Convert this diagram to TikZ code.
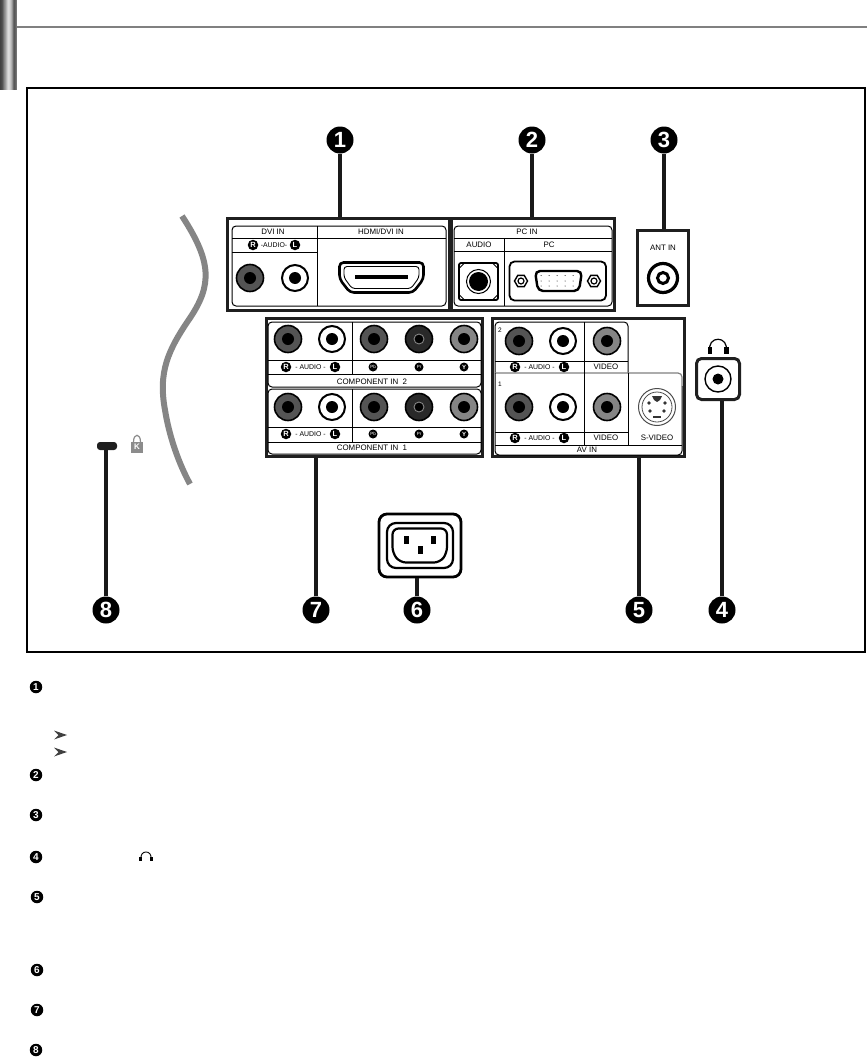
\documentclass[tikz,border=0pt]{standalone}
\usepackage{fontspec}
\setmainfont{Liberation Sans}
\definecolor{jkdark}{gray}{0.33}
\definecolor{jkdeep}{gray}{0.16}
\definecolor{jkmid}{gray}{0.52}
\definecolor{curvegray}{gray}{0.52}
\usetikzlibrary{arrows.meta,positioning,shapes.geometric,calc}

\begin{document}
\begin{tikzpicture}[x=1pt,y=-1pt,
    numbadge/.style={circle, fill=black, text=white, inner sep=0pt, minimum size=27pt,
      font=\fontsize{22}{22}\selectfont\bfseries},
    txtbadge/.style={circle, fill=black, text=white, inner sep=0pt, minimum size=12.5pt,
      font=\fontsize{10}{10}\selectfont\bfseries},
    tinybadge/.style={circle, fill=black, text=white, inner sep=0pt, minimum size=9pt,
      font=\fontsize{6}{6}\selectfont\bfseries},
    chanbadge/.style={tinybadge, minimum size=10.5pt, font=\fontsize{7.5}{8}\selectfont\bfseries},
    panel/.style={rectangle, draw=black!88, line width=3pt, inner sep=0pt},
    lbl/.style={inner sep=0pt, font=\fontsize{7.9}{8}\selectfont},
    audiolbl/.style={inner sep=0pt, font=\fontsize{6.9}{8}\selectfont},
    link/.style={line width=3.2pt, black!90},
    rule/.style={line width=1pt},
    jack/.style={circle, draw=black, line width=1.6pt, inner sep=0pt, minimum size=27pt},
    whitejack/.style={jack, fill=white, line width=2pt, minimum size=26pt},
    hole/.style={circle, fill=black, inner sep=0pt, minimum size=12pt},
    pin/.style={rectangle, fill=black, inner sep=0pt, minimum width=5pt, minimum height=8pt},
    phones/.pic={
      \draw[line width=1.2pt] (-8,6) .. controls (-12,-11) and (12,-11) .. (8,6);
      \fill (-10.5,1) rectangle (-6,8);
      \fill (6,1) rectangle (10.5,8);
    }
  ]
    \useasboundingbox (0,0) rectangle (867,1057);

    \foreach \sx/\sg in {0/75,1/72,2/68,3/58,4/48,5/40,6/30,7/20,8/14,9/16,10/22,11/30,12/42,13/58,14/66,15/62,16/55}{
      \fill[black!\sg!white] (\sx,0) rectangle (\sx+1.2,90);
    }
    \draw[line width=2pt, black!50] (17,27) -- (867,27);
    \draw[line width=2pt] (27,88) rectangle (865,652);

    \draw[line width=6pt, curvegray] (182,216) .. controls (212,262) and (212,285) .. (190,318)
      .. controls (168,350) and (158,372) .. (165,410) .. controls (169,435) and (178,462) .. (190,484);

    \node[panel, minimum width=222pt, minimum height=91.5pt] (dvi) at (338.5,264.25) {};
    \node[panel, minimum width=162.5pt, minimum height=91.5pt] (pcin) at (532.75,264.25) {};
    \node[panel, minimum width=51pt, minimum height=75pt] (ant) at (663,268) {};
    \node[panel, rounded corners=5pt, minimum width=43pt, minimum height=41pt] (phone) at (718,379) {};
    \node[panel, minimum width=192pt, minimum height=138pt] (av) at (588.5,387.5) {};
    \node[panel, minimum width=216pt, minimum height=138pt] (comp) at (374.5,387.5) {};
    \node[panel, draw=black, line width=2.8pt, rounded corners=8pt, minimum width=82pt, minimum height=63pt] (power) at (420,545.5) {};
    \node[rectangle, fill=black!88, rounded corners=3pt, minimum width=20pt, minimum height=8pt, inner sep=0pt] (slot) at (107,446) {};

    \node[numbadge] (b1) at (340,140) {1};
    \node[numbadge] (b2) at (532,140) {2};
    \node[numbadge] (b3) at (664,140) {3};
    \node[numbadge] (b4) at (722,610) {4};
    \node[numbadge] (b5) at (639,610) {5};
    \node[numbadge] (b6) at (417,610) {6};
    \node[numbadge] (b7) at (316,610) {7};
    \node[numbadge] (b8) at (106,610) {8};

    \draw[link] (b1) -- (b1 |- dvi.north);
    \draw[link] (b2) -- (b2 |- pcin.north);
    \draw[link] (b3) -- (b3 |- ant.north);
    \draw[link] (b4) -- (b4 |- phone.south);
    \draw[link] (b5) -- (b5 |- av.south);
    \draw[link] (b6) -- (b6 |- power.south);
    \draw[link] (b7) -- (b7 |- comp.south);
    \draw[link] (b8) -- (b8 |- slot.south);

    % dvi and hdmi
    \draw[rule, rounded corners=4pt] (232,226) rectangle (446,306);
    \draw[rule] (232,238) -- (446,238) (232,252) -- (317,252) (317,226) -- (317,306);
    \node[lbl] (dvit) at (273,232) {DVI IN};
    \node[lbl] (hdmit) at (381,231.5) {HDMI/DVI IN};
    \node[chanbadge] (dvir) at (253,245) {R};
    \node[audiolbl] (dvia) at (274,245) {-AUDIO-};
    \node[chanbadge] (dvil) at (295,245) {L};
    \node[jack, fill=jkdark, minimum size=27pt] (dvij1) at (250,278) {};
    \node[hole] (dvih1) at (dvij1) {};
    \node[whitejack] (dvij2) at (295,278) {};
    \node[hole] (dvih2) at (dvij2) {};
    \draw[line width=2.6pt, rounded corners=4pt] (339.5,262.5) -- (423.5,262.5) -- (423.5,279) -- (413,292.5) -- (350,292.5) -- (339.5,279) -- cycle;
    \draw[line width=0.9pt, rounded corners=3pt] (344,266.5) -- (419,266.5) -- (419,277.5) -- (411,288.5) -- (352,288.5) -- (344,277.5) -- cycle;
    \fill (355,275) rectangle (408,279);

    % pc
    \draw[rule, rounded corners=4pt] (454,226) rectangle (612,306);
    \draw[rule] (454,238) -- (612,238) (454,251) -- (612,251) (504,238) -- (504,306);
    \node[lbl] (pct) at (527,232) {PC IN};
    \node[lbl] (pca) at (479,244.5) {AUDIO};
    \node[lbl] (pcp) at (549,244.5) {PC};
    \draw[line width=1.8pt, rounded corners=2pt] (459,263) rectangle (498,300);
    \draw[line width=1pt] (459.5,268) -- (464,263.5) (493,263.5) -- (497.5,268) (459.5,295) -- (464,299.5) (493,299.5) -- (497.5,295);
    \node[jack, fill=white, line width=1pt, minimum size=24pt] (pcj) at (478.5,281.5) {};
    \node[hole, minimum size=19pt] (pch) at (pcj) {};
    \draw[line width=1.8pt, rounded corners=5pt] (509.5,261.5) rectangle (606,300.5);
    \foreach \sx in {521,594}{
      \node[regular polygon, regular polygon sides=6, draw=black, line width=1.4pt, inner sep=0pt, minimum size=13pt] (scr\sx) at (\sx,281) {};
      \node[circle, draw=black, line width=1.2pt, inner sep=0pt, minimum size=6pt] (sci\sx) at (\sx,281) {};
    }
    \draw[line width=2.4pt, rounded corners=5pt] (535,271) -- (582,271) -- (579,291) -- (538,291) -- cycle;
    \foreach \dx in {541,549,557,565,573}{
      \fill (\dx,275.5) circle (0.5);
      \fill (\dx,281) circle (0.5);
      \fill (\dx,286) circle (0.5);
    }

    % antenna
    \node[lbl] (antt) at (663,248) {ANT IN};
    \node[jack, fill=white, line width=3.2pt, minimum size=29pt] (antj) at (663,278) {};
    \node[circle, draw=black, line width=3pt, fill=white, inner sep=0pt, minimum size=11pt] (anth) at (antj) {};

    % headphone
    \pic at (718,346) {phones};
    \node[jack, fill=white, line width=1.4pt, minimum size=26pt] (phj) at (718,379) {};
    \node[hole, minimum size=11pt] (phh) at (phj) {};

    % component
    \draw[rule, rounded corners=4pt] (268,322) rectangle (481,387);
    \draw[rule, rounded corners=4pt] (268,389) rectangle (481,454);
    \draw[rule] (268,360) -- (481,360) (268,374) -- (481,374) (352,322) -- (352,374);
    \draw[rule] (268,427) -- (481,427) (268,442) -- (481,442) (352,389) -- (352,442);
    \foreach \ry/\ty/\cy/\cn in {339/367/382/2,407/434/448/1}{
      \node[jack, fill=jkdark] (cr\cn) at (288,\ry) {};
      \node[hole] (crh\cn) at (cr\cn) {};
      \node[whitejack] (cl\cn) at (332,\ry) {};
      \node[hole] (clh\cn) at (cl\cn) {};
      \node[jack, fill=jkdark] (cb\cn) at (374,\ry) {};
      \node[hole] (cbh\cn) at (cb\cn) {};
      \node[jack, fill=jkdeep] (cp\cn) at (419,\ry) {};
      \node[hole, draw=jkmid, line width=0.9pt, minimum size=10pt] (cph\cn) at (cp\cn) {};
      \node[jack, fill=jkmid] (cy\cn) at (464,\ry) {};
      \node[hole] (cyh\cn) at (cy\cn) {};
      \node[chanbadge] (car\cn) at (286,\ty) {R};
      \node[audiolbl] (cat\cn) at (310.5,\ty) {- AUDIO -};
      \node[chanbadge] (cal\cn) at (335,\ty) {L};
      \node[tinybadge, font=\fontsize{4.5}{5}\selectfont] (tb\cn) at (373,\ty) {Pb};
      \node[tinybadge, font=\fontsize{4.5}{5}\selectfont] (tp\cn) at (419,\ty) {Pr};
      \node[tinybadge] (ty\cn) at (464,\ty) {Y};
      \node[lbl] (ctt\cn) at (372,\cy) {COMPONENT IN \ \cn};
    }

    % av
    \draw[rule, rounded corners=4pt] (495,373) -- (495,322) -- (628,322) -- (628,373);
    \draw[line width=1.2pt, black!50, rounded corners=4pt] (495,373) -- (682,373) -- (682,386);
    \draw[rule, rounded corners=4pt] (682,386) -- (682,455) -- (495,455) -- (495,373);
    \draw[rule] (495,361) -- (628,361) (495,432) -- (628,432) (495,445) -- (682,445)
      (584,322) -- (584,445) (628,373) -- (628,445);
    \node[lbl, font=\fontsize{6.5}{7}\selectfont] (avn2) at (500,330) {2};
    \node[lbl, font=\fontsize{6.5}{7}\selectfont] (avn1) at (500,384) {1};
    \foreach \ry/\ty/\cn in {341/367/2,407/438/1}{
      \node[jack, fill=jkdark] (ar\cn) at (519,\ry) {};
      \node[hole] (arh\cn) at (ar\cn) {};
      \node[whitejack] (al\cn) at (563,\ry) {};
      \node[hole] (alh\cn) at (al\cn) {};
      \node[jack, fill=jkmid] (av\cn) at (607,\ry) {};
      \node[hole] (avh\cn) at (av\cn) {};
      \node[chanbadge] (aar\cn) at (515,\ty) {R};
      \node[audiolbl] (aat\cn) at (539.5,\ty) {- AUDIO -};
      \node[chanbadge] (aal\cn) at (564,\ty) {L};
      \node[lbl] (avt\cn) at (606,\ty) {VIDEO};
    }
    \node[circle, draw=black!70, line width=1pt, inner sep=0pt, minimum size=37pt] (sv) at (657,407) {};
    \node[circle, draw=black!70, line width=0.8pt, inner sep=0pt, minimum size=30pt] (svi) at (sv) {};
    \fill[black!80] (652,396) -- (662,396) -- (660,400) -- (657,402) -- (654,400) -- cycle;
    \fill[black!80] (653,415.5) rectangle (661,417.5);
    \foreach \px/\py in {649/403,665/403,650/411,664/411}{
      \node[diamond, fill=black!80, inner sep=0pt, minimum size=4pt] at (\px,\py) {};
    }
    \node[lbl] (svt) at (657,438) {S-VIDEO};
    \node[lbl] (avlbl) at (587,450) {AV IN};

    % power inlet
    \draw[line width=2.2pt, rounded corners=9pt] (387,523) rectangle (453,568);
    \draw[line width=2.2pt, rounded corners=6pt] (392.5,528.5) -- (447,528.5) -- (447,553) -- (440,562.5) -- (400,562.5) -- (392.5,553) -- cycle;
    \node[pin] (pw1) at (406,540) {};
    \node[pin] (pw2) at (433,540) {};
    \node[pin] (pw3) at (420,550) {};

    % lock
    \draw[line width=1.2pt, black!45] (133.5,442) .. controls (133.5,433) and (140.5,433) .. (140.5,442);
    \node[rectangle, fill=black!45, text=white, inner sep=0pt, minimum width=12pt, minimum height=11pt,
      font=\fontsize{8}{8}\selectfont\bfseries] (lock) at (137,447) {K};

    % text markers
    \node[txtbadge] (n1) at (36,687) {1};
    \node[txtbadge] (n2) at (36,775) {2};
    \node[txtbadge] (n3) at (36,815) {3};
    \node[txtbadge] (n4) at (36,857) {4};
    \node[txtbadge] (n5) at (37,897) {5};
    \node[txtbadge] (n6) at (37,970) {6};
    \node[txtbadge] (n7) at (37,1010) {7};
    \node[txtbadge] (n8) at (36,1050) {8};
    \foreach \ay in {735,752}{
      \fill[black!75] (54,\ay-4.5) -- (67,\ay) -- (54,\ay+4.5) -- (58.5,\ay) -- cycle;
    }
    \begin{scope}[shift={(146,856)}, scale=0.6]
      \draw[line width=0.9pt] (-8,6) .. controls (-12,-11) and (12,-11) .. (8,6);
      \fill (-11,1) rectangle (-6,8);
      \fill (6,1) rectangle (11,8);
    \end{scope}
  \end{tikzpicture}
\end{document}
